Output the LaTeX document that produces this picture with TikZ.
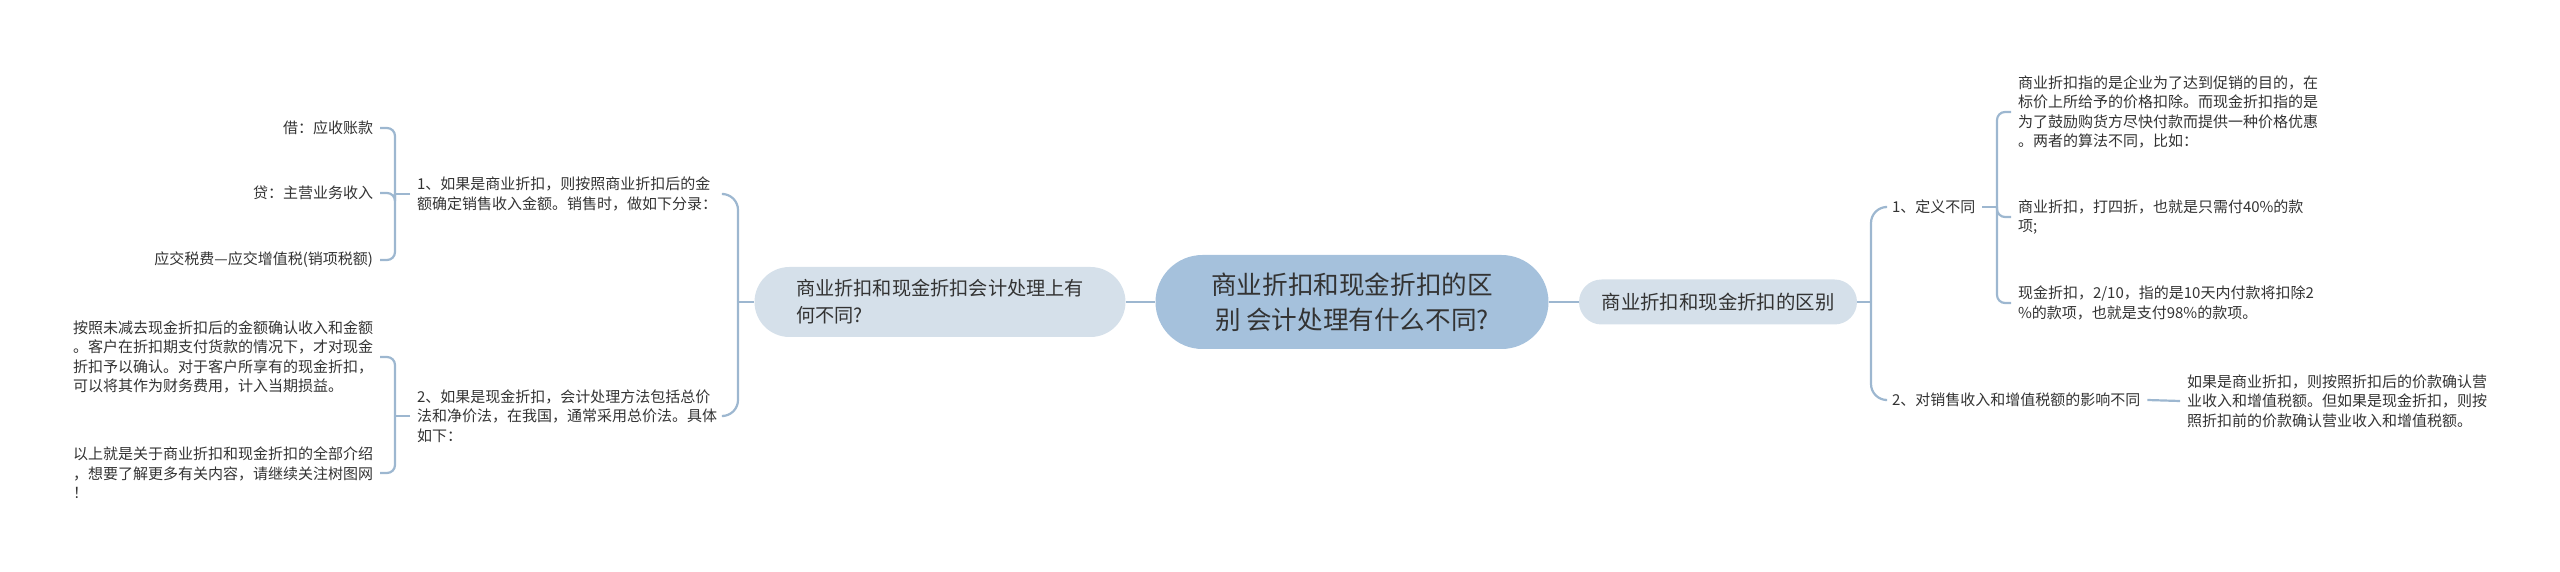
\documentclass[tikz,border=0pt]{standalone}
\usepackage{fontspec}
\setmainfont{Noto Sans CJK SC}
\definecolor{lineblue}{HTML}{9DB7D0}
\definecolor{centerblue}{HTML}{A5C1DC}
\definecolor{lightblue}{HTML}{D5E0EA}
\definecolor{textgray}{HTML}{333333}
\begin{document}
\begin{tikzpicture}[x=0.5pt,y=-0.5pt,
  conn/.style={draw=lineblue, line width=1.1pt},
  trunk/.style={conn, rounded corners=8pt},
  brace/.style={conn, rounded corners=4pt},
  txt/.style={font=\fontsize{7.5pt}{9.75pt}\selectfont, text=textgray, inner sep=2pt, outer sep=1.5pt, align=left},
  rootbox/.style={fill=centerblue, rounded corners=23.5pt, minimum width=196.5pt, minimum height=47pt,
    font=\fontsize{12.8pt}{17.5pt}\selectfont, text=textgray, align=center, inner sep=0pt},
  subbox/.style={fill=lightblue, text=textgray, inner sep=0pt}
]
\useasboundingbox (0,0) rectangle (2560,572);

% central and first-level nodes
\node[rootbox] (root) at (1352,302) {商业折扣和现金折扣的区\\别 会计处理有什么不同?};
\node[subbox, rounded corners=17.5pt, minimum width=185.5pt, minimum height=35pt,
  font=\fontsize{9.6pt}{13.5pt}\selectfont, align=left] (L) at (940,302)
  {商业折扣和现金折扣会计处理上有\\何不同?};
\node[subbox, rounded corners=11.25pt, minimum width=139pt, minimum height=22.5pt,
  font=\fontsize{9.7pt}{12pt}\selectfont] (R) at (1718,302) {商业折扣和现金折扣的区别};

\draw[conn] (root.west) -- (L.east);
\draw[conn] (root.east) -- (R.west);

% right side
\node[txt, anchor=west] (d1) at (1885,207) {1、定义不同};
\node[txt, anchor=west] (d1a) at (2011,112) {商业折扣指的是企业为了达到促销的目的，在\\标价上所给予的价格扣除。而现金折扣指的是\\为了鼓励购货方尽快付款而提供一种价格优惠\\。两者的算法不同，比如：};
\node[txt, anchor=west] (d1b) at (2011,217) {商业折扣，打四折，也就是只需付40\%的款\\项;};
\node[txt, anchor=west] (d1c) at (2011,303) {现金折扣，2/10，指的是10天内付款将扣除2\\\%的款项，也就是支付98\%的款项。};
\node[txt, anchor=west] (d2) at (1885,400) {2、对销售收入和增值税额的影响不同};
\node[txt, anchor=west] (d2a) at (2180,401) {如果是商业折扣，则按照折扣后的价款确认营\\业收入和增值税额。但如果是现金折扣，则按\\照折扣前的价款确认营业收入和增值税额。};

\coordinate (rt) at (1871,302);
\draw[conn] (R.east) -- (rt);
\draw[trunk] (rt) |- (d1.west);
\draw[trunk] (rt) |- (d2.west);

\coordinate (d1j) at (1997,207);
\draw[conn] (d1.east) -- (d1j);
\draw[brace] (d1j) |- (d1a.west);
\draw[brace] (d1j) |- (d1b.west);
\draw[brace] (d1j) |- (d1c.west);

\draw[conn] (d2.east) -- (d2a.west);

% left side
\node[txt, anchor=west] (c1) at (410,194) {1、如果是商业折扣，则按照商业折扣后的金\\额确定销售收入金额。销售时，做如下分录：};
\node[txt, anchor=west] (c2) at (410,416) {2、如果是现金折扣，会计处理方法包括总价\\法和净价法，在我国，通常采用总价法。具体\\如下：};

\node[txt, anchor=east] (c1a) at (380,128) {借：应收账款};
\node[txt, anchor=east] (c1b) at (380,193) {贷：主营业务收入};
\node[txt, anchor=east] (c1c) at (380,260) {应交税费—应交增值税(销项税额)};

\node[txt, anchor=east] (c2a) at (380,357) {按照未减去现金折扣后的金额确认收入和金额\\。客户在折扣期支付货款的情况下，才对现金\\折扣予以确认。对于客户所享有的现金折扣，\\可以将其作为财务费用，计入当期损益。};
\node[txt, anchor=east] (c2b) at (380,473) {以上就是关于商业折扣和现金折扣的全部介绍\\，想要了解更多有关内容，请继续关注树图网\\！};

\coordinate (lt) at (738,302);
\draw[conn] (L.west) -- (lt);
\draw[trunk] (lt) |- (c1.east);
\draw[trunk] (lt) |- (c2.east);

\coordinate (c1j) at (395,194);
\draw[conn] (c1.west) -- (c1j);
\draw[brace] (c1j) |- (c1a.east);
\draw[brace] (c1j) |- (c1b.east);
\draw[brace] (c1j) |- (c1c.east);

\coordinate (c2j) at (395,416);
\draw[conn] (c2.west) -- (c2j);
\draw[brace] (c2j) |- (c2a.east);
\draw[brace] (c2j) |- (c2b.east);
\end{tikzpicture}
\end{document}
